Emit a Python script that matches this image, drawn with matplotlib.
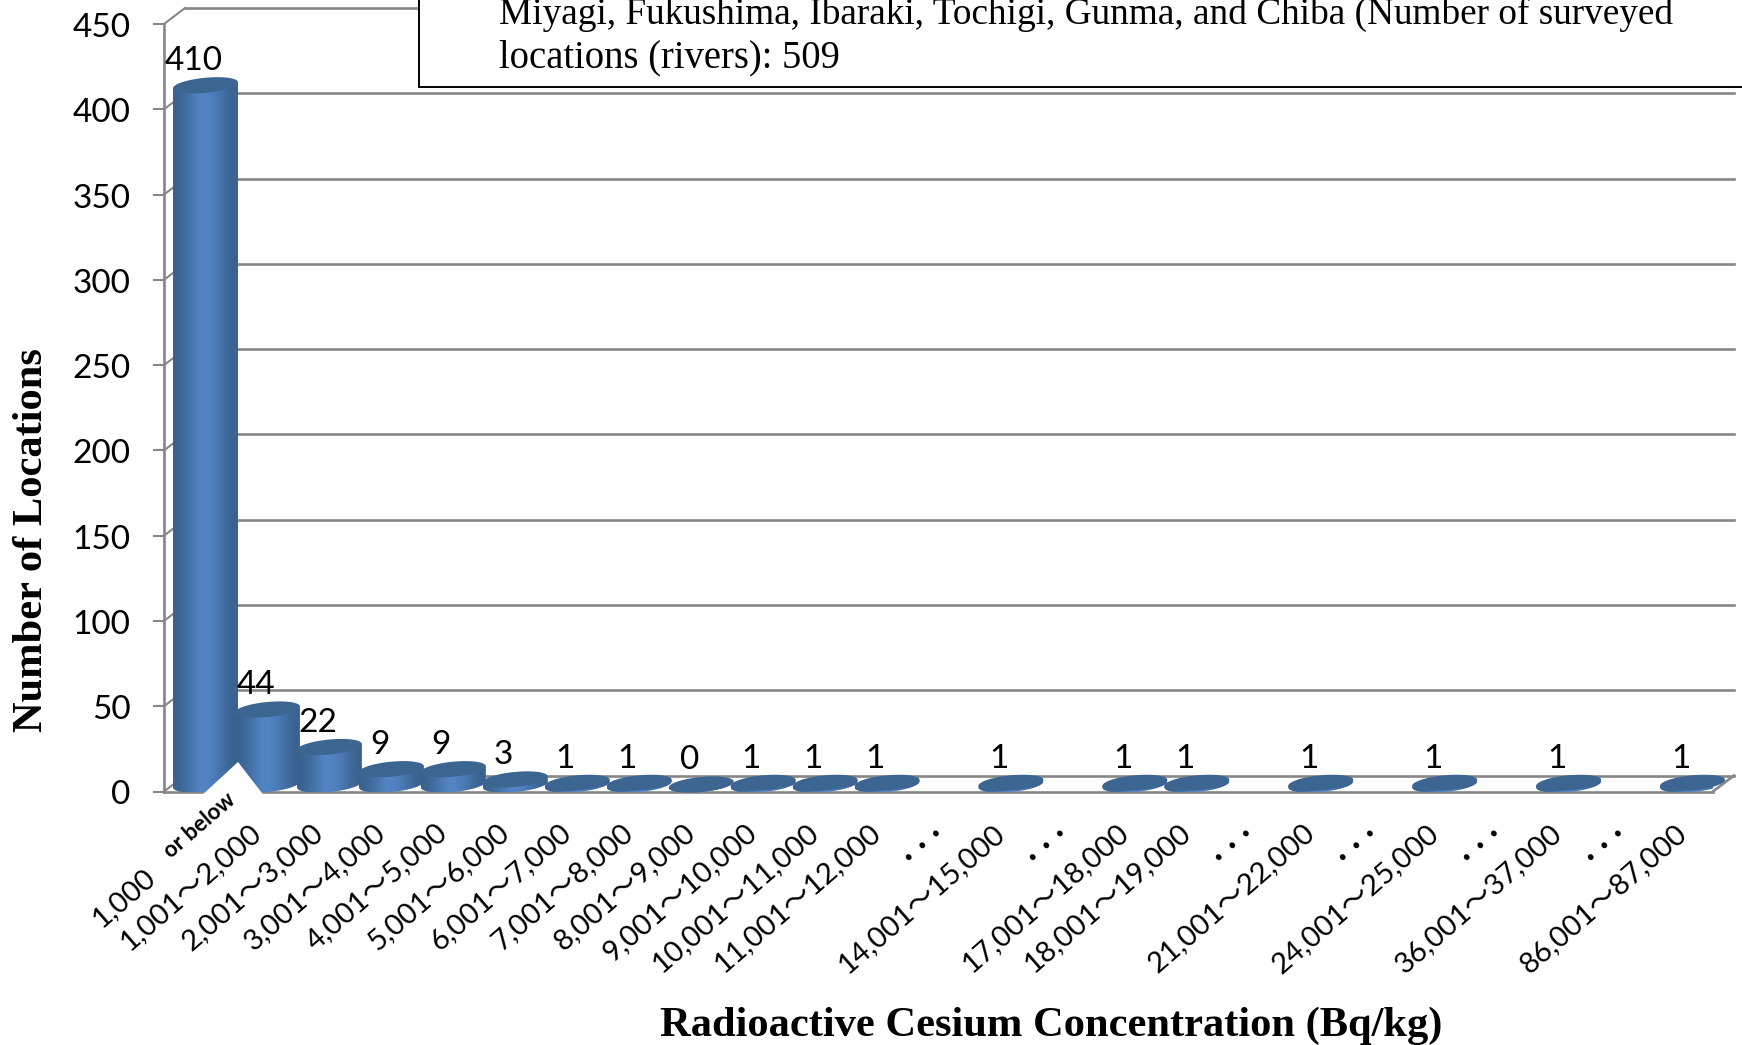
import numpy as np
import matplotlib
matplotlib.use('Agg')
import matplotlib.pyplot as plt
from matplotlib.path import Path
from matplotlib.patches import PathPatch, Polygon, Rectangle
from matplotlib.transforms import Affine2D

categories = ['', '1,001～2,000', '2,001～3,000', '3,001～4,000', '4,001～5,000',
              '5,001～6,000', '6,001～7,000', '7,001～8,000', '8,001～9,000',
              '9,001～10,000', '10,001～11,000', '11,001～12,000', '. . .',
              '14,001～15,000', '. . .', '17,001～18,000', '18,001～19,000', '. . .',
              '21,001～22,000', '. . .', '24,001～25,000', '. . .',
              '36,001～37,000', '. . .', '86,001～87,000']
# None = the "..." gaps, no bar there
counts = [410, 44, 22, 9, 9, 3, 1, 1, 0, 1, 1, 1, None, 1, None, 1, 1, None,
          1, None, 1, None, 1, None, 1]
y_ticks = [0, 50, 100, 150, 200, 250, 300, 350, 400, 450]

WIDTH, HEIGHT = 1742, 1045
LEFT, RIGHT, TOP, FLOOR = 164, 1713, 24, 791.5
GREY = '#868686'
SANS = ['Lato', 'Noto Sans CJK JP', 'DejaVu Sans']
SERIF = 'Liberation Serif'

fig = plt.figure(figsize=(WIDTH / 100, HEIGHT / 100), dpi=100)
ax = fig.add_axes([LEFT / WIDTH, 1 - FLOOR / HEIGHT,
                   (RIGHT - LEFT) / WIDTH, (FLOOR - TOP) / HEIGHT])
n = len(categories)
ax.set_xlim(0, n)
ax.set_ylim(0, 450)

# size of one pixel in data units
px_x = n / (RIGHT - LEFT)
px_y = 450 / (FLOOR - TOP)
depth_x = 21 * px_x
depth_y = 16 * px_y


def pt(x, y):
    return (x - LEFT) * px_x, (FLOOR - y) * px_y


# back wall and floor
for v in y_ticks:
    ax.plot([depth_x, n + depth_x], [v + depth_y, v + depth_y], color=GREY,
            lw=1.9, clip_on=False, zorder=1)
    ax.plot([0, depth_x], [v, v + depth_y], color=GREY, lw=1.5, clip_on=False, zorder=1)
ax.plot([n, n + depth_x], [0, depth_y], color=GREY, lw=1.9, clip_on=False, zorder=1)
ax.plot([0, n], [0, 0], color=GREY, lw=1.9, clip_on=False, zorder=1)

gradient = np.array([[0.0, 0.25, 0.6, 1.0, 0.85, 0.6, 0.2, 0.0]])
dark = np.array([0x3a, 0x62, 0x90]) / 255
light = np.array([0x55, 0x87, 0xc8]) / 255
gradient_img = (dark + (light - dark) * gradient[..., None])

half_w = 32.5 * px_x
half_h = 7.5 * px_y
shear = 3.0 * px_y
t = np.linspace(0, 2 * np.pi, 73)


def draw_cylinder(i, value):
    cx = i + 0.5 + depth_x / 2
    base = depth_y / 2 - 0.6
    top = value + base
    # body outline: front half of the bottom ellipse, then straight up
    tb = np.linspace(np.pi, 2 * np.pi, 37)
    xs = cx + half_w * np.cos(tb)
    ys = base + half_h * np.sin(tb) + shear * np.cos(tb)
    verts = list(zip(xs, ys)) + [(cx + half_w, top + shear), (cx - half_w, top - shear)]
    body = PathPatch(Path(verts + [verts[0]]), transform=ax.transData, fc='none', ec='none')
    ax.add_patch(body)
    im = ax.imshow(gradient_img, extent=[cx - half_w, cx + half_w, -5, top + 10],
                   aspect='auto', interpolation='bicubic', zorder=3 + i * 0.01)
    im.set_clip_box(None)
    im.set_clip_path(body)
    ax.fill(cx + half_w * np.cos(t), top + half_h * np.sin(t) + shear * np.cos(t),
            color='#3c6591', lw=0, zorder=3 + i * 0.01 + 0.001, clip_on=False)


for i, c in enumerate(counts):
    if c is None:
        continue
    draw_cylinder(i, c)
    ax.annotate(str(c), (i + 0.5, c), xytext=(-1, 22.5), textcoords='offset points',
                ha='center', va='center', fontsize=24, family=SANS, zorder=10)

ax.set_xlim(0, n)
ax.set_ylim(0, 450)

# white notch cut out under the first label
ax.add_patch(Polygon([pt(200, 797), pt(238, 762), pt(265, 797)], closed=True,
                     fc='white', ec='none', clip_on=False, zorder=5))

for s in ['top', 'right', 'bottom']:
    ax.spines[s].set_visible(False)
ax.spines['left'].set_color(GREY)
ax.spines['left'].set_linewidth(1.9)
ax.patch.set_visible(False)

ax.set_yticks(y_ticks)
ax.tick_params(axis='y', length=8, width=1.5, color=GREY, labelsize=24, pad=16)
for lab in ax.get_yticklabels():
    lab.set_family(SANS)
    lab.set_transform(lab.get_transform() + Affine2D().translate(0, -1))

ax.set_xticks(np.arange(n) + 0.5)
ax.set_xticklabels(categories, rotation=41, ha='right', va='top',
                   rotation_mode='anchor', fontsize=21, family=SANS)
ax.tick_params(axis='x', length=0, pad=20)
for lab in ax.get_xticklabels():
    lab.set_transform(lab.get_transform() + Affine2D().translate(-8, 0))
    if lab.get_text().startswith('.'):
        lab.set_fontsize(27)
        lab.set_weight('bold')
        lab.set_transform(lab.get_transform() + Affine2D().translate(-7, 8))

# first category is split in two pieces in the original
ax.text(*pt(152, 873), '1,000', rotation=41, ha='right', va='center', rotation_mode='anchor',
        fontsize=21, family=SANS, clip_on=False)
ax.text(*pt(200, 825), 'or below', rotation=41, ha='center', va='center', rotation_mode='anchor',
        fontsize=16, weight='bold', family=SANS, clip_on=False, zorder=6)

fig.text(32 / WIDTH, 1 - 540 / HEIGHT, 'Number of Locations', rotation=90, ha='center',
         va='center', fontsize=30.6, weight='bold', family=SERIF)
fig.text(1051 / WIDTH, 1 - 1026 / HEIGHT, 'Radioactive Cesium Concentration (Bq/kg)',
         ha='center', va='center', fontsize=30.6, weight='bold', family=SERIF)

# note box, runs off the top and right of the page
fig.add_artist(Rectangle((419 / WIDTH, 1 - 87 / HEIGHT), 1400 / WIDTH, 120 / HEIGHT,
                         transform=fig.transFigure, fc='white', ec='black', lw=1.4, zorder=20))
fig.text(499 / WIDTH, 1 - 14 / HEIGHT,
         'Miyagi, Fukushima, Ibaraki, Tochigi, Gunma, and Chiba (Number of surveyed',
         ha='left', va='center', fontsize=26.8, family=SERIF, zorder=21)
fig.text(499 / WIDTH, 1 - 58 / HEIGHT, 'locations (rivers): 509',
         ha='left', va='center', fontsize=27.8, family=SERIF, zorder=21)

fig.savefig('out.png', dpi=100)
